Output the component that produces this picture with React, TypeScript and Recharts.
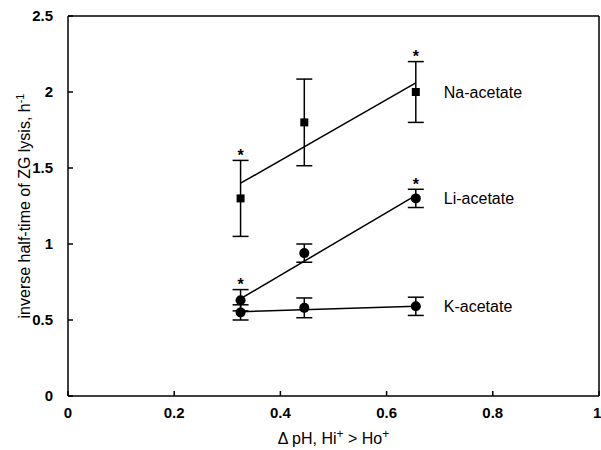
import { ComposedChart, Scatter, XAxis, YAxis, ErrorBar, ReferenceLine } from 'recharts';

const font = '"Liberation Sans", Arial, Helvetica, sans-serif';

// delta pH of the three conditions
const dpH = [0.325, 0.445, 0.655];

const naRate = [1.3, 1.8, 2.0];
const naErr = [0.25, 0.285, 0.2];
const naStar = [true, false, true];

const liRate = [0.63, 0.94, 1.3];
const liErr = [0.07, 0.06, 0.06];
const liStar = [true, false, true];

const kRate = [0.55, 0.58, 0.59];
const kErr = [0.05, 0.065, 0.06];
const kStar = [false, false, false];

// regression lines, endpoints
const fitX = [0.325, 0.655];
const naFit = [1.4, 2.06];
const liFit = [0.64, 1.32];
const kFit = [0.555, 0.59];

const seriesNames = ['Na-acetate', 'Li-acetate', 'K-acetate'];

const xTicks = [0, 0.2, 0.4, 0.6, 0.8, 1];
const yTicks = [0, 0.5, 1, 1.5, 2, 2.5];

const toPoints = (ys: number[], errs: number[]) => dpH.map((x, i) => ({ x, y: ys[i], err: errs[i] }));
const toFit = (ys: number[]) => fitX.map((x, i) => ({ x, y: ys[i] }));
const toStars = (ys: number[], errs: number[], flags: boolean[]) =>
  dpH.map((x, i) => ({ x, y: ys[i] + errs[i] + 0.055, on: flags[i] })).filter((d) => d.on);

const naData = toPoints(naRate, naErr);
const liData = toPoints(liRate, liErr);
const kData = toPoints(kRate, kErr);
const starData = [
  ...toStars(naRate, naErr, naStar),
  ...toStars(liRate, liErr, liStar),
  ...toStars(kRate, kErr, kStar),
];
const last = dpH.length - 1;
const nameData = [naRate, liRate, kRate].map((ys, i) => ({ x: dpH[last], y: ys[last], name: seriesNames[i] }));

const Square = (p: any) => <rect x={p.cx - 4} y={p.cy - 4} width={8} height={8} fill="#000" />;
const Dot = (p: any) => <circle cx={p.cx} cy={p.cy} r={5} fill="#000" />;
const Nothing = () => <g />;
const Star = (p: any) => (
  <text x={p.cx} y={p.cy + 9} textAnchor="middle" fontSize={16} fontWeight="bold" fontFamily={font} fill="#000">*</text>
);
const Name = (p: any) => (
  <text x={p.cx + 28} y={p.cy + 6} fontSize={16} fontFamily={font} fill="#000">{p.payload.name}</text>
);

const tickStyle = { fontSize: 15, fontWeight: 'bold', fill: '#000', fontFamily: font };
const lineStyle = { stroke: '#000', strokeWidth: 1.5 };

export default function App() {
  return (
    <div style={{ position: 'absolute', left: 0, top: 0, background: '#fff' }}>
      <ComposedChart width={601} height={450} margin={{ top: 16, right: 2, bottom: 14, left: 8 }}>
        <XAxis
          type="number"
          dataKey="x"
          domain={[0, 1]}
          ticks={xTicks}
          height={40}
          tick={tickStyle}
          tickSize={-5}
          tickMargin={16}
          axisLine={lineStyle}
          tickLine={lineStyle}
          label={{
            content: (p: any) => {
              const vb = p.viewBox;
              return (
                <text x={vb.x + vb.width / 2} y={vb.y + 48} textAnchor="middle" fontSize={16} fontFamily={font} fill="#000">
                  Δ pH, Hi<tspan dy={-6} fontSize={12}>+</tspan>
                  <tspan dy={6}> &gt; Ho</tspan>
                  <tspan dy={-6} fontSize={12}>+</tspan>
                </text>
              );
            },
          }}
        />
        <YAxis
          type="number"
          dataKey="y"
          domain={[0, 2.5]}
          ticks={yTicks}
          width={60}
          tick={tickStyle}
          tickSize={-5}
          tickMargin={20}
          axisLine={lineStyle}
          tickLine={lineStyle}
          label={{
            content: (p: any) => {
              const vb = p.viewBox;
              const cx = vb.x + 16;
              const cy = vb.y + vb.height / 2;
              return (
                <text x={cx} y={cy + 6} transform={`rotate(-90 ${cx} ${cy})`} textAnchor="middle" fontSize={16} fontFamily={font} fill="#000">
                  inverse half-time of ZG lysis, h<tspan dy={-6} fontSize={11}>-1</tspan>
                </text>
              );
            },
          }}
        />
        <ReferenceLine y={2.5} stroke="#000" strokeWidth={1.5} />
        <ReferenceLine x={1} stroke="#000" strokeWidth={1.5} />

        <Scatter data={toFit(naFit)} line={lineStyle} shape={Nothing} isAnimationActive={false} />
        <Scatter data={toFit(liFit)} line={lineStyle} shape={Nothing} isAnimationActive={false} />
        <Scatter data={toFit(kFit)} line={lineStyle} shape={Nothing} isAnimationActive={false} />

        <Scatter data={naData} shape={Square} isAnimationActive={false}>
          <ErrorBar dataKey="err" direction="y" width={8} stroke="#000" strokeWidth={1.5} />
        </Scatter>
        <Scatter data={liData} shape={Dot} isAnimationActive={false}>
          <ErrorBar dataKey="err" direction="y" width={8} stroke="#000" strokeWidth={1.5} />
        </Scatter>
        <Scatter data={kData} shape={Dot} isAnimationActive={false}>
          <ErrorBar dataKey="err" direction="y" width={8} stroke="#000" strokeWidth={1.5} />
        </Scatter>

        <Scatter data={starData} shape={Star} isAnimationActive={false} />
        <Scatter data={nameData} shape={Name} isAnimationActive={false} />
      </ComposedChart>
    </div>
  );
}
